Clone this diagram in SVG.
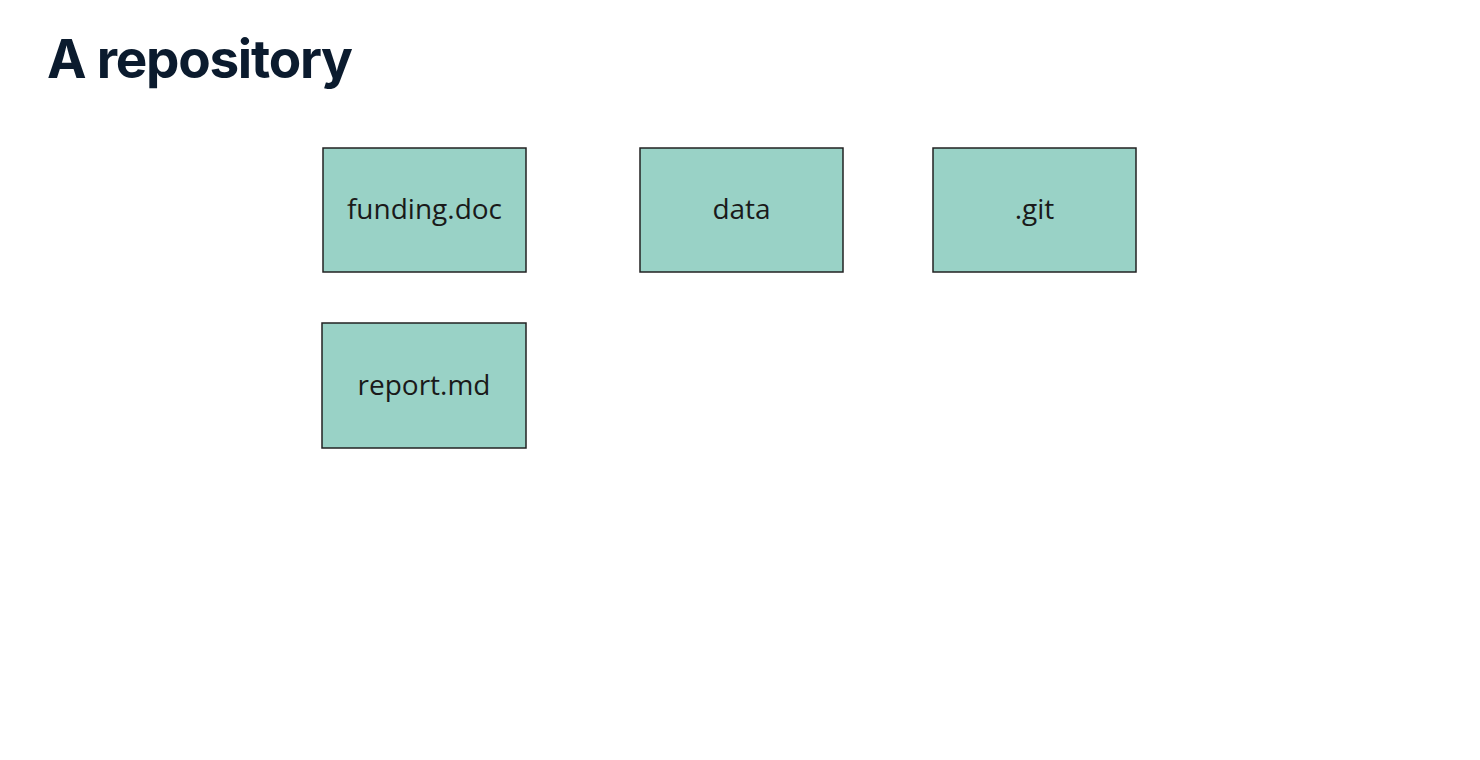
<svg xmlns="http://www.w3.org/2000/svg" width="1480" height="760" viewBox="0 0 1480 760">
<style>
.title{font-family:Inter,"Liberation Sans",sans-serif;font-weight:700;font-size:53px;fill:#0b1b2e}
.box{fill:#99d2c6;stroke:#222;stroke-width:1.5}
.lbl{font-family:"Open Sans","Noto Sans",sans-serif;font-size:28px;fill:#1a1a1a;text-anchor:middle;dominant-baseline:central}
</style>
<rect width="1480" height="760" fill="#ffffff"/>
<text class="title" x="47" y="78" textLength="306" lengthAdjust="spacing">A repository</text>
<g id="funding"><rect class="box" x="323" y="148" width="203" height="124"/><text class="lbl" x="424.5" y="208">funding.doc</text></g>
<g id="data"><rect class="box" x="640" y="148" width="203" height="124"/><text class="lbl" x="741.5" y="208">data</text></g>
<g id="git"><rect class="box" x="933" y="148" width="203" height="124"/><text class="lbl" x="1034.5" y="208">.git</text></g>
<g id="report"><rect class="box" x="322" y="323" width="204" height="125"/><text class="lbl" x="424" y="384">report.md</text></g>
<g id="connectors"/>
</svg>
